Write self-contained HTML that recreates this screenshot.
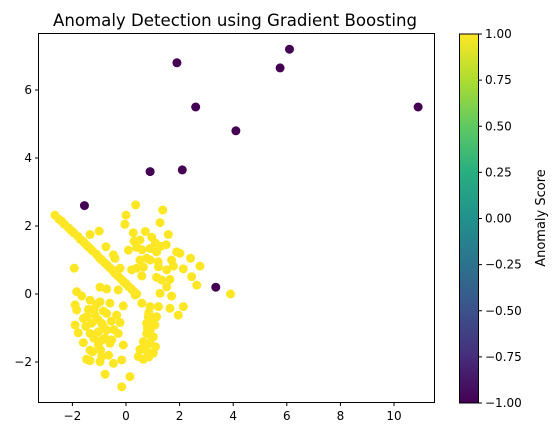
<!DOCTYPE html>
<html><head><meta charset="utf-8"><style>
body{margin:0;background:#fff;width:559px;height:438px;overflow:hidden}
text{font-family:"DejaVu Sans","Liberation Sans",sans-serif}
</style></head><body>
<svg id="chart" width="559" height="438" xmlns="http://www.w3.org/2000/svg">
<defs><linearGradient id="vir" x1="0" y1="1" x2="0" y2="0">
<stop offset="0" stop-color="#440154"/><stop offset="0.125" stop-color="#472d7b"/><stop offset="0.25" stop-color="#3b528b"/><stop offset="0.375" stop-color="#2c728e"/><stop offset="0.5" stop-color="#21918c"/><stop offset="0.625" stop-color="#28ae80"/><stop offset="0.75" stop-color="#5ec962"/><stop offset="0.875" stop-color="#addc30"/><stop offset="1" stop-color="#fde725"/></linearGradient></defs>
<text x="235" y="26" font-size="16.6" text-anchor="middle">Anomaly Detection using Gradient Boosting</text>
<g id="marks"></g>
<rect x="38.5" y="33.5" width="396" height="369" fill="none" stroke="#000" stroke-width="1"/>
<g id="axes"></g>
<rect x="459.5" y="34" width="19" height="369" fill="url(#vir)" stroke="#000" stroke-width="1"/>
<text transform="translate(545,218) rotate(-90)" font-size="13" text-anchor="middle">Anomaly Score</text>
</svg>
<script>
const normalX = [0.36,1.37,0.0,1.27,-0.04,-1.34,-1.0,0.27,0.72,1.58,0.96,-0.75,0.52,0.40,0.09,0.90,1.14,1.89,2.01,2.41,2.76,2.14,1.77,1.52,1.21,0.77,0.52,0.40,0.65,0.21,-0.22,-0.41,-0.47,-1.93,0.59,1.14,1.64,1.33,2.45,2.64,1.70,1.52,1.27,-0.29,0.34,-0.97,-0.72,-1.84,-1.65,-1.34,-1.90,-1.84,-0.97,-0.60,-0.10,0.59,-1.47,-1.16,-0.72,-0.35,-1.59,-1.28,-0.91,-0.22,-1.90,-1.78,-1.34,-1.03,-0.72,-0.29,-0.78,-1.59,-1.03,-0.53,-0.10,-1.34,-1.47,-1.34,-0.91,-0.97,-0.47,-0.16,-0.78,0.15,-0.16,0.90,1.21,1.64,2.14,1.95,0.83,1.14,0.77,1.08,0.90,0.77,1.02,0.65,0.90,0.52,0.77,1.02,0.65,0.46,
-2.65,-2.5,-2.4,-2.3,-2.15,-2.05,-1.95,-1.8,-1.7,-1.6,-1.45,-1.35,-1.25,-1.1,-1.0,-0.9,-0.8,-0.7,-0.6,-0.5,-0.4,-0.3,-0.2,-0.1,0.0,0.1,0.2,0.3,0.4,-1.55,-0.95,-0.45,3.9,
-1.2,-1.05,-0.85,-0.55,-1.5,-1.2,-0.9,-0.6,-1.4,-1.1,-0.85,-0.45,-1.25,-0.95,-0.65,0.85,1.0,0.8,0.95,0.7,1.1,0.85,1.3,1.1,1.5,0.9,1.2,1.7,0.6,0.3];
const normalY = [2.62,2.47,2.32,2.10,2.05,1.75,1.85,1.80,1.84,1.75,1.67,1.39,1.59,1.37,1.29,1.34,1.24,1.24,1.20,1.05,0.82,0.74,0.82,0.71,0.80,1.05,1.0,0.76,0.79,0.71,0.76,1.05,1.15,0.76,0.53,0.49,0.43,0.41,0.51,0.26,-0.06,0.21,0.02,0.12,-0.03,0.20,0.15,0.07,-0.06,-0.18,-0.32,-0.47,-0.23,-0.27,-0.35,-0.27,-0.67,-0.62,-0.57,-0.62,-0.72,-0.86,-0.86,-0.84,-0.91,-1.14,-1.16,-1.11,-1.06,-1.16,-1.30,-1.43,-1.50,-1.35,-1.50,-1.65,-1.92,-1.96,-1.84,-1.99,-2.04,-1.94,-2.36,-2.43,-2.73,-0.37,-0.37,-0.42,-0.37,-0.62,-0.67,-0.67,-0.86,-0.91,-1.06,-1.16,-1.26,-1.40,-1.45,-1.63,-1.67,-1.74,-1.92,-1.84,
2.32,2.2,2.14,2.05,1.95,1.87,1.8,1.7,1.6,1.55,1.42,1.35,1.27,1.17,1.07,1.0,0.92,0.85,0.77,0.7,0.6,0.53,0.45,0.37,0.3,0.22,0.15,0.07,0.0,1.5,1.03,0.65,0.0,
-0.45,-0.75,-0.95,-0.8,-0.95,-1.3,-1.35,-1.45,-0.45,-0.3,-0.5,-1.05,-1.7,-1.65,-1.8,-0.55,-0.8,-1.0,-1.25,-1.5,-1.55,-1.85,1.4,1.5,1.45,1.0,0.95,1.0,1.3,1.55];
const anomX = [1.9,6.1,5.75,2.6,10.9,4.1,0.9,2.1,-1.55,3.35];
const anomY = [6.8,7.2,6.65,5.5,5.5,4.8,3.6,3.65,2.6,0.2];
const xTicks = [-2,0,2,4,6,8,10];
const yTicks = [-2,0,2,4,6];
const cbTicks = ["1.00","0.75","0.50","0.25","0.00","−0.25","−0.50","−0.75","−1.00"];
const sx = v => 126 + v*26.8;
const sy = v => 294 - v*34;
const NS="http://www.w3.org/2000/svg";
const marks=document.getElementById('marks'), axes=document.getElementById('axes'), svg=document.getElementById('chart');
function dot(x,y,c,name){const e=document.createElementNS(NS,'circle');e.setAttribute('cx',sx(x));e.setAttribute('cy',sy(y));e.setAttribute('r',4.5);e.setAttribute('fill',c);


marks.appendChild(e);}
normalX.forEach((x,i)=>dot(x,normalY[i],'#fde725','normal-point'));
anomX.forEach((x,i)=>dot(x,anomY[i],'#440154','anomaly-point'));
function mk(tag,attrs,parent,txt){const e=document.createElementNS(NS,tag);for(const k in attrs)e.setAttribute(k,attrs[k]);if(txt!==undefined)e.textContent=txt;parent.appendChild(e);return e;}
xTicks.forEach(t=>{const x=sx(t);mk('line',{x1:x,x2:x,y1:402.5,y2:406,stroke:'#000'},axes);
const l=mk('text',{x:x,y:420,'font-size':12,'text-anchor':'middle'},axes,t<0?'−'+(-t):t);

});
yTicks.forEach(t=>{const y=sy(t);mk('line',{x1:35,x2:38.5,y1:y,y2:y,stroke:'#000'},axes);
const l=mk('text',{x:32,y:y+4,'font-size':12,'text-anchor':'end'},axes,t<0?'−'+(-t):t);

});
cbTicks.forEach((t,i)=>{const y=34+i*(369/8);mk('line',{x1:478.5,x2:482,y1:y,y2:y,stroke:'#000'},svg);
const l=mk('text',{x:485,y:y+4,'font-size':12},svg,t);

});
</script>
</body></html>
